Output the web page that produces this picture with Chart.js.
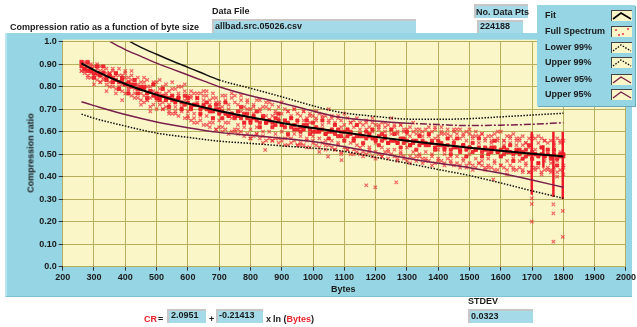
<!DOCTYPE html>
<html><head><meta charset="utf-8">
<script src="https://cdn.jsdelivr.net/npm/chart.js@4.4.0/dist/chart.umd.min.js"></script>
<style>
body{margin:0;width:637px;height:327px;position:relative;overflow:hidden;background:#fff;font-family:"Liberation Sans",Arial,sans-serif;font-weight:bold;font-size:9px;color:#1a1a1a;}
.t{position:absolute;white-space:nowrap;line-height:11px;z-index:4;}
.box{position:absolute;background:#a5dbe9;border-top:2px solid #c6c6c6;border-left:2px solid #c6c6c6;box-sizing:border-box;z-index:3;}
#panel{position:absolute;left:5px;top:33px;width:627px;height:264px;background:#96d5e3;border-left:2px solid #b8e5ee;border-bottom:1px solid #7fc2d2;box-sizing:border-box;z-index:0;}
#legend{position:absolute;left:537px;top:5px;width:98px;height:101px;background:#96d5e3;box-shadow:1px 1px 0 #6aaabb;z-index:5;}
#legend .t{left:8px;}
.sw{position:absolute;left:74px;width:21px;height:11px;background:#fbf6c8;border-top:1px solid #444;border-left:1px solid #444;box-sizing:border-box;overflow:hidden;}
.sw svg{position:absolute;left:0;top:0;}
canvas{position:absolute;left:0;top:0;z-index:1;}
.red{color:#e8202a;}
</style></head>
<body>
<div id="panel"></div>
<canvas id="c" width="637" height="327"></canvas>

<div class="t" style="left:10px;top:22px;">Compression ratio as a function of byte size</div>
<div class="t" style="left:212px;top:6px;">Data File</div>
<div class="box" style="left:212px;top:19px;width:204px;height:14px;"></div>
<div class="t" style="left:215px;top:20.5px;">allbad.src.05026.csv</div>
<div class="box" style="left:474px;top:4px;width:54px;height:14px;"></div>
<div class="t" style="left:476px;top:6.5px;">No. Data Pts</div>
<div class="box" style="left:477px;top:20px;width:46px;height:13px;"></div>
<div class="t" style="left:480px;top:21px;">224188</div>

<div id="legend">
  <div class="t" style="top:4.5px;">Fit</div>
  <div class="t" style="top:20.5px;">Full Spectrum</div>
  <div class="t" style="top:37px;">Lower 99%</div>
  <div class="t" style="top:52px;">Upper 99%</div>
  <div class="t" style="top:68.5px;">Lower 95%</div>
  <div class="t" style="top:84px;">Upper 95%</div>
  <div class="sw" style="top:5px;"><svg width="20" height="10"><polyline points="1,8 9,2 19,8" fill="none" stroke="#000" stroke-width="1.6"/></svg></div>
  <div class="sw" style="top:21px;"><svg width="20" height="10"><g stroke="#f06070" stroke-width="1"><path d="M3,2 l2,2 M5,2 l-2,2"/><path d="M10,6 l2,2 M12,6 l-2,2"/><path d="M15,1 l2,2 M17,1 l-2,2"/><path d="M6,7 l2,2 M8,7 l-2,2"/></g></svg></div>
  <div class="sw" style="top:37px;"><svg width="20" height="10"><polyline points="1,8 9,2 19,8" fill="none" stroke="#000" stroke-width="1.3" stroke-dasharray="1.5,1.5"/></svg></div>
  <div class="sw" style="top:52px;"><svg width="20" height="10"><polyline points="1,8 9,2 19,8" fill="none" stroke="#000" stroke-width="1.3" stroke-dasharray="1.5,1.5"/></svg></div>
  <div class="sw" style="top:69px;"><svg width="20" height="10"><polyline points="1,8 9,2 19,8" fill="none" stroke="#7a1f4c" stroke-width="1.4"/></svg></div>
  <div class="sw" style="top:84px;"><svg width="20" height="10"><polyline points="1,8 9,2 19,8" fill="none" stroke="#7a1f4c" stroke-width="1.4"/></svg></div>
</div>

<div class="t" style="left:31px;top:153px;transform:translate(-50%,-50%) rotate(-90deg);">Compression ratio</div>
<div class="t" style="left:331px;top:283.5px;">Bytes</div>

<div class="t red" style="left:144px;top:313.5px;">CR</div>
<div class="t" style="left:158px;top:313.5px;">=</div>
<div class="box" style="left:167px;top:309px;width:39px;height:14px;"></div>
<div class="t" style="left:171px;top:310px;">2.0951</div>
<div class="t" style="left:209px;top:314px;">+</div>
<div class="box" style="left:216px;top:309px;width:47px;height:14px;"></div>
<div class="t" style="left:219px;top:310px;">-0.21413</div>
<div class="t" style="left:266px;top:313.5px;">x</div>
<div class="t" style="left:273px;top:313.5px;">ln (<span class="red">Bytes</span>)</div>

<div class="t" style="left:468px;top:296px;">STDEV</div>
<div class="box" style="left:468px;top:309px;width:65px;height:14px;"></div>
<div class="t" style="left:471px;top:310.5px;">0.0323</div>

<script>
// ---- data ----
const fitX = [260, 300, 400, 500, 600, 700, 800, 900, 1000, 1100, 1200, 1300, 1400, 1500, 1600, 1700, 1800];
const fitY = [0.904, 0.874, 0.812, 0.764, 0.725, 0.692, 0.664, 0.639, 0.616, 0.596, 0.577, 0.560, 0.544, 0.529, 0.515, 0.502, 0.490];

const upper99X = [415, 450, 500, 550, 600, 639, 700, 800, 900, 1000, 1087, 1200, 1300, 1400, 1500, 1600, 1700, 1800];
const upper99Y = [1.0, 0.975, 0.944, 0.914, 0.886, 0.864, 0.83, 0.793, 0.755, 0.715, 0.686, 0.668, 0.656, 0.655, 0.658, 0.666, 0.674, 0.682];

const upper95X = [351, 400, 450, 500, 550, 600, 650, 700, 800, 900, 1000, 1087, 1200, 1300, 1400, 1500, 1600, 1700, 1800];
const upper95Y = [1.0, 0.965, 0.935, 0.905, 0.878, 0.852, 0.826, 0.80, 0.76, 0.728, 0.692, 0.664, 0.648, 0.638, 0.632, 0.627, 0.629, 0.633, 0.64];

const lowerX = [260, 300, 400, 500, 600, 700, 800, 900, 1000, 1100, 1200, 1300, 1400, 1500, 1600, 1700, 1800];
const lower95Y = [0.733, 0.716, 0.676, 0.643, 0.618, 0.597, 0.584, 0.571, 0.556, 0.533, 0.508, 0.482, 0.46, 0.44, 0.415, 0.385, 0.353];
const lower99Y = [0.678, 0.66, 0.625, 0.594, 0.575, 0.558, 0.548, 0.537, 0.527, 0.512, 0.486, 0.46, 0.432, 0.405, 0.372, 0.337, 0.304];

const cloudX = [260,270,280,290,300,310,320,330,340,350,
 360,370,380,390,400,410,420,430,440,450,
 460,470,480,490,500,510,520,530,540,550,
 560,570,580,590,600,610,620,630,640,650,
 660,670,680,690,700,710,720,730,740,750,
 760,770,780,790,800,810,820,830,840,850,
 860,870,880,890,900,910,920,930,940,950,
 960,970,980,990,1000,1010,1020,1030,1040,1050,
 1060,1070,1080,1090,1100,1110,1120,1130,1140,1150,
 1160,1170,1180,1190,1200,1210,1220,1230,1240,1250,
 1260,1270,1280,1290,1300,1310,1320,1330,1340,1350,
 1360,1370,1380,1390,1400,1410,1420,1430,1440,1450,
 1460,1470,1480,1490,1500,1510,1520,1530,1540,1550,
 1560,1570,1580,1590,1600,1610,1620,1630,1640,1650,
 1660,1670,1680,1690,1700,1710,1720,1730,1740,1750,
 1760,1770,1780,1790,1800];
// dense core of the cloud
const cloudB = [.89,.88,.87,.87,.86,.86,.85,.86,.84,.85,
 .84,.83,.82,.83,.81,.82,.80,.81,.79,.80,
 .79,.77,.78,.76,.77,.75,.76,.74,.75,.74,
 .74,.75,.73,.72,.73,.71,.72,.72,.70,.71,
 .70,.71,.69,.70,.68,.69,.68,.67,.68,.67,
 .67,.66,.68,.66,.65,.67,.65,.64,.66,.64,
 .65,.64,.63,.65,.63,.62,.64,.62,.63,.61,
 .62,.61,.63,.61,.60,.62,.60,.61,.59,.60,
 .60,.59,.61,.58,.60,.58,.59,.57,.58,.59,
 .58,.57,.59,.57,.56,.58,.56,.57,.55,.56,
 .56,.55,.57,.55,.56,.54,.55,.56,.54,.55,
 .55,.54,.55,.53,.54,.55,.53,.54,.52,.53,
 .53,.52,.54,.52,.53,.51,.52,.53,.51,.52,
 .52,.51,.53,.51,.52,.50,.52,.51,.50,.51,
 .50,.51,.49,.50,.51,.50,.49,.50,.49,.50,
 .49,.50,.48,.49,.50];
const cloudE = [.91,.88,.91,.88,.84,.89,.85,.89,.83,.85,
 .82,.86,.79,.84,.81,.77,.81,.83,.77,.79,
 .80,.75,.78,.81,.75,.74,.79,.75,.71,.76,
 .73,.75,.70,.76,.75,.70,.72,.75,.68,.72,
 .73,.69,.66,.72,.70,.66,.73,.67,.68,.66,
 .69,.71,.64,.68,.64,.66,.69,.62,.67,.64,
 .65,.62,.66,.68,.63,.65,.59,.66,.61,.65,
 .60,.63,.65,.59,.64,.60,.61,.65,.59,.57,
 .61,.63,.58,.60,.56,.61,.60,.56,.63,.58,
 .55,.60,.58,.61,.57,.54,.59,.58,.55,.61,
 .59,.55,.53,.57,.60,.54,.56,.52,.58,.56,
 .54,.59,.56,.52,.56,.54,.52,.57,.50,.55,
 .57,.51,.54,.49,.53,.55,.52,.57,.49,.53,
 .50,.53,.56,.51,.49,.53,.51,.54,.47,.52,
 .52,.48,.52,.54,.48,.50,.46,.53,.49,.52,
 .48,.52,.45,.50,.49];
// wider spread of the cloud
const cloudA = [.91,.90,.90,.89,.89,.88,.89,.87,.88,.86,
 .87,.86,.88,.85,.86,.84,.85,.83,.84,.82,
 .82,.83,.80,.81,.82,.79,.80,.81,.78,.79,
 .79,.77,.80,.78,.76,.78,.77,.75,.77,.76,
 .76,.74,.77,.75,.73,.76,.74,.72,.75,.73,
 .72,.74,.71,.73,.70,.72,.74,.70,.71,.73,
 .70,.72,.69,.71,.68,.70,.69,.67,.70,.68,
 .67,.69,.66,.68,.67,.65,.68,.66,.67,.65,
 .66,.64,.67,.65,.63,.66,.64,.65,.63,.64,
 .63,.65,.62,.64,.63,.61,.64,.62,.63,.61,
 .62,.60,.63,.61,.59,.62,.60,.61,.59,.60,
 .61,.59,.60,.62,.58,.60,.59,.61,.58,.60,
 .59,.61,.58,.60,.59,.57,.60,.58,.59,.57,
 .58,.56,.59,.57,.60,.56,.58,.57,.59,.56,
 .56,.58,.55,.57,.58,.57,.55,.57,.56,.55,
 .56,.54,.57,.55,.56];
const cloudC = [.87,.86,.85,.84,.85,.83,.82,.83,.81,.82,
 .80,.79,.80,.78,.77,.78,.76,.77,.75,.74,
 .73,.74,.71,.72,.70,.72,.70,.71,.69,.68,
 .68,.67,.69,.66,.67,.65,.66,.64,.65,.63,
 .63,.62,.64,.61,.62,.60,.61,.59,.60,.61,
 .59,.60,.58,.59,.57,.58,.59,.57,.58,.56,
 .57,.56,.57,.55,.56,.57,.54,.55,.56,.54,
 .55,.54,.56,.53,.55,.54,.53,.55,.52,.54,
 .53,.52,.54,.51,.53,.52,.50,.52,.51,.50,
 .51,.50,.52,.49,.51,.50,.49,.51,.48,.50,
 .49,.48,.50,.49,.47,.49,.48,.47,.49,.48,
 .48,.47,.49,.46,.48,.47,.46,.48,.47,.45,
 .46,.45,.47,.44,.46,.45,.44,.46,.45,.44,
 .45,.44,.46,.43,.45,.44,.43,.45,.44,.43,
 .44,.43,.45,.42,.44,.43,.44,.42,.43,.44,
 .43,.44,.42,.43,.44];
const cloudD = [.90,.87,.88,.86,.84,.85,.87,.84,.86,.80,
 .82,.85,.79,.81,.84,.80,.83,.79,.81,.77,
 .76,.80,.75,.78,.74,.77,.73,.76,.72,.76,
 .71,.76,.70,.74,.69,.75,.68,.73,.67,.74,
 .67,.72,.66,.73,.65,.71,.64,.70,.66,.76,
 .63,.69,.62,.70,.61,.68,.62,.69,.60,.67,
 .60,.67,.59,.66,.60,.65,.58,.66,.59,.64,
 .58,.65,.57,.64,.58,.66,.57,.63,.56,.64,
 .56,.63,.55,.62,.57,.61,.55,.62,.54,.61,
 .54,.61,.53,.60,.55,.62,.53,.60,.52,.59,
 .52,.59,.51,.60,.53,.58,.51,.59,.50,.58,
 .51,.58,.50,.57,.52,.59,.50,.57,.49,.56,
 .49,.57,.48,.56,.50,.58,.48,.55,.47,.56,
 .48,.55,.47,.56,.49,.54,.47,.55,.48,.54,
 .47,.54,.46,.53,.48,.52,.46,.53,.47,.52,
 .46,.52,.47,.51,.45];
const cloudF = [.87,.91,.84,.90,.81,.90,.82,.86,.78,.86,
 .88,.77,.85,.74,.87,.79,.87,.75,.80,.72,
 .84,.74,.69,.82,.75,.83,.70,.77,.68,.82,
 .69,.80,.71,.81,.66,.76,.64,.77,.68,.78,
 .78,.64,.75,.61,.72,.62,.76,.64,.77,.60,
 .61,.76,.64,.74,.57,.71,.59,.74,.55,.71,
 .73,.56,.68,.57,.73,.54,.69,.57,.70,.54,
 .54,.69,.53,.67,.56,.69,.51,.67,.54,.70,
 .67,.52,.66,.50,.68,.52,.64,.50,.66,.53,
 .49,.64,.51,.66,.48,.63,.49,.64,.51,.66,
 .63,.47,.63,.48,.61,.46,.64,.49,.61,.46,
 .47,.62,.45,.61,.47,.62,.45,.59,.46,.61,
 .61,.44,.59,.45,.61,.43,.58,.46,.59,.43,
 .44,.58,.43,.60,.45,.56,.41,.58,.43,.57,
 .57,.42,.55,.42,.57,.44,.58,.41,.56,.43,
 .42,.55,.40,.56,.41];

const outX = [1170, 1199, 1266, 1699, 1699, 1699, 1768, 1768, 1768, 1798, 1798, 847, 1048, 1091, 1576];
const outY = [0.362, 0.353, 0.375, 0.304, 0.279, 0.200, 0.277, 0.237, 0.111, 0.248, 0.133, 0.519, 0.489, 0.474, 0.388];

const stripeX = [1699, 1736, 1768, 1798];
const stripeLow = [0.32, 0.44, 0.31, 0.30];
const stripeHigh = [0.60, 0.54, 0.60, 0.60];

const xTicks = [200, 300, 400, 500, 600, 700, 800, 900, 1000, 1100, 1200, 1300, 1400, 1500, 1600, 1700, 1800, 1900, 2000];
const yTickLabels = ['0.0', '0.10', '0.20', '0.30', '0.40', '0.50', '0.60', '0.70', '0.80', '0.90', '1.0'];

// ---- build datasets ----
const pts = (xs, ys) => xs.map((x, i) => ({x, y: ys[i]}));
const seriesPts = list => { const out = []; list.forEach(s => cloudX.forEach((x, i) => out.push({x, y: s[i]}))); return out; };
const corePts = seriesPts([cloudB, cloudE]);
const spreadPts = seriesPts([cloudA, cloudC, cloudD, cloudF]);
outX.forEach((x, i) => spreadPts.push({x, y: outY[i]}));
const stripePts = [];
stripeX.forEach((x, i) => { stripePts.push({x, y: stripeLow[i]}, {x, y: stripeHigh[i]}, {x, y: null}); });

const MAROON = '#7a1f4c';
const lineDs = (label, data, color, width, extra) => Object.assign({
  type: 'line', label, data, borderColor: color, borderWidth: width, pointRadius: 0,
  fill: false, cubicInterpolationMode: 'monotone'
}, extra || {});

const plotBg = {id: 'plotBg', beforeDraw(c) {
  const {ctx, chartArea: a} = c;
  ctx.save(); ctx.fillStyle = '#fbf6c8'; ctx.fillRect(a.left, a.top - 2, a.width, a.height + 2); ctx.restore();
}};

Chart.defaults.font.family = '"Liberation Sans", Arial, sans-serif';
Chart.defaults.font.size = 9;
Chart.defaults.font.weight = 'bold';
Chart.defaults.color = '#1a1a1a';

new Chart(document.getElementById('c'), {
  type: 'scatter',
  data: { datasets: [
    lineDs('Fit', pts(fitX, fitY), '#000', 2, {order: 0}),
    lineDs('Upper 99%', pts(upper99X, upper99Y), '#111', 1.5, {order: 1,
      segment: {borderDash: ctx => ctx.p0.parsed.x >= 640 ? [1.5, 1.5] : undefined}}),
    lineDs('Lower 99%', pts(lowerX, lower99Y), '#111', 1.5, {order: 1, borderDash: [1.5, 1.5]}),
    lineDs('Upper 95%', pts(upper95X, upper95Y), MAROON, 1.5, {order: 2,
      segment: {borderDash: ctx => ctx.p0.parsed.x >= 1250 ? [7, 2, 2, 2] : undefined}}),
    lineDs('Lower 95%', pts(lowerX, lower95Y), MAROON, 1.5, {order: 2}),
    {type: 'line', label: 'Full Spectrum stripes', data: stripePts, borderColor: '#ee1c28', borderWidth: 2.5,
      pointRadius: 0, spanGaps: false, order: 3},
    {label: 'Full Spectrum', data: corePts, pointStyle: 'rect', pointRadius: 2.2, pointBorderWidth: 0.8,
      borderColor: 'rgba(236,24,34,0.95)', backgroundColor: 'rgba(240,30,40,0.92)', order: 4},
    {label: 'Full Spectrum spread', data: spreadPts, pointStyle: 'crossRot', pointRadius: 2.4, pointBorderWidth: 1.2,
      borderColor: 'rgba(238,36,48,0.68)', backgroundColor: 'rgba(238,36,48,0.68)', order: 5}
  ]},
  options: {
    responsive: false, animation: false, devicePixelRatio: 1, events: [],
    layout: {padding: {left: 0, right: 11, top: 41.7, bottom: 0}},
    plugins: {legend: {display: false}, tooltip: {enabled: false}},
    scales: {
      x: {type: 'linear', min: 200, max: 2000,
        afterFit(s) { s.height = 60.3; },
        afterBuildTicks(s) { s.ticks = xTicks.map(v => ({value: v})); },
        ticks: {callback: v => String(v), padding: 1, maxRotation: 0, autoSkip: false},
        grid: {color: '#b5ae5c', lineWidth: 1, tickLength: 4, tickColor: '#333'},
        border: {display: false}},
      y: {min: 0, max: 1,
        afterFit(s) { s.width = 62.7; },
        afterBuildTicks(s) { s.ticks = yTickLabels.map((t, i) => ({value: i / 10})); },
        ticks: {callback: (v, i) => yTickLabels[i], padding: 2, autoSkip: false},
        grid: {color: '#b5ae5c', lineWidth: 1, tickLength: 4, tickColor: '#333'},
        border: {display: false}}
    }
  },
  plugins: [plotBg]
});
</script>
</body></html>
